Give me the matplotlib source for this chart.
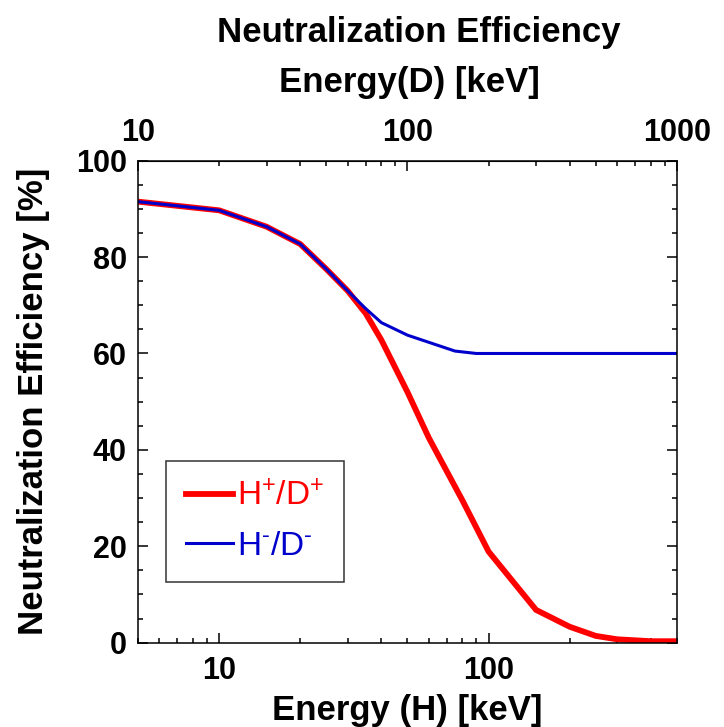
import matplotlib
matplotlib.use('Agg')
import matplotlib.pyplot as plt
from matplotlib.ticker import LogLocator, FixedLocator, NullFormatter, MultipleLocator
import numpy as np

plt.rcParams['font.family'] = ['Liberation Sans', 'DejaVu Sans']
plt.rcParams['mathtext.fontset'] = 'custom'
plt.rcParams['mathtext.rm'] = 'Liberation Sans'

# hydrogen beam energy [keV] and neutralization efficiency [%]
energy_pos = [5, 10, 15, 20, 25, 30, 35, 40, 50, 60, 80, 100, 150, 200, 250, 300, 400, 500]
eff_pos = [91.5, 89.7, 86.3, 82.7, 77.5, 73.0, 68.3, 62.8, 52.0, 42.5, 29.5, 18.9, 6.8, 3.3, 1.4, 0.7, 0.3, 0.3]

energy_neg = [5, 10, 15, 20, 25, 30, 35, 40, 50, 75, 90, 500]
eff_neg = [91.5, 89.7, 86.3, 82.7, 77.5, 73.0, 69.3, 66.4, 63.8, 60.5, 60.0, 60.0]

label_pos = r'$\mathregular{H^{+}/D^{+}}$'
label_neg = '$\\mathregular{H^{\u2010}/D^{\u2010}}$'

RED = '#ff0000'
BLUE = '#0000cc'

fig = plt.figure(figsize=(7.24, 7.27), dpi=100)
ax = fig.add_axes([0.1906, 0.116, 0.7444, 0.663])

ax.plot(energy_pos, eff_pos, color=RED, lw=4.2, label=label_pos)
ax.plot(energy_neg, eff_neg, color=BLUE, lw=2.2, label=label_neg)

ax.set_xscale('log')
ax.set_xlim(5, 500)
ax.set_ylim(0, 100)

ax.xaxis.set_major_locator(FixedLocator([10, 100]))
ax.xaxis.set_major_formatter(plt.FuncFormatter(lambda v, p: '%d' % v))
ax.xaxis.set_minor_locator(LogLocator(base=10, subs=np.arange(2, 10)))
ax.xaxis.set_minor_formatter(NullFormatter())
ax.yaxis.set_major_locator(MultipleLocator(20))
ax.yaxis.set_minor_locator(MultipleLocator(5))

ax.tick_params(which='both', direction='in', right=True, width=1.1)
ax.tick_params(axis='x', which='both', top=False)
ax.tick_params(which='major', length=7, labelsize=22)
ax.tick_params(which='minor', length=3.6)
ax.tick_params(axis='x', pad=9.5)
ax.tick_params(axis='y', pad=8)
for lab in ax.get_xticklabels() + ax.get_yticklabels():
    lab.set_fontweight('bold')
for s in ax.spines.values():
    s.set_linewidth(1.1)

# deuterium energy on top axis (D carries twice the H energy)
top = ax.secondary_xaxis('top', functions=(lambda x: 2 * x, lambda x: x / 2))
top.xaxis.set_major_locator(FixedLocator([10, 100, 1000]))
top.xaxis.set_major_formatter(plt.FuncFormatter(lambda v, p: '%d' % v))
top.xaxis.set_minor_locator(LogLocator(base=10, subs=np.arange(2, 10)))
top.xaxis.set_minor_formatter(NullFormatter())
top.tick_params(which='both', direction='in', width=1.1)
top.tick_params(which='major', length=7, labelsize=22, pad=9)
top.tick_params(which='minor', length=3.6)
for lab in top.get_xticklabels():
    lab.set_fontweight('bold')

ax.set_xlabel('Energy (H) [keV]', fontsize=25, fontweight='bold')
ax.xaxis.label.set_va('baseline')
ax.xaxis.set_label_coords(0.5, -0.1604)
ax.set_ylabel('Neutralization Efficiency [%]', fontsize=25, fontweight='bold')
ax.yaxis.set_label_coords(-0.163, 0.5)

# two-line header: figure title and top axis title
fig.text(0.579, 1 - 42 / 727, 'Neutralization Efficiency', fontsize=25, fontweight='bold',
         ha='center', va='baseline')
fig.text(0.565, 1 - 92 / 727, 'Energy(D) [keV]', fontsize=25, fontweight='bold',
         ha='center', va='baseline')

leg = ax.legend(loc='lower left', bbox_to_anchor=(0.052, 0.126), fontsize=24,
                frameon=True, fancybox=False, handlelength=1.4, handletextpad=0.12,
                borderpad=0.6, labelspacing=0.55, borderaxespad=0)
leg.get_frame().set_edgecolor('black')
leg.get_frame().set_linewidth(1.1)
for txt, c in zip(leg.get_texts(), [RED, BLUE]):
    txt.set_color(c)

fig.savefig('out.png', dpi=100)
